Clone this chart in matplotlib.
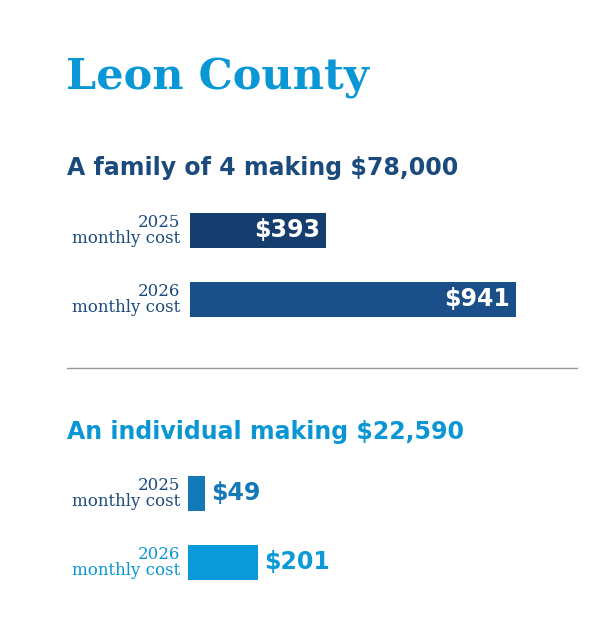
import matplotlib
matplotlib.use("Agg")
import matplotlib.pyplot as plt

title = "Leon County"
groups = ["A family of 4 making $78,000", "An individual making $22,590"]
years = ["2025", "2026"]
family_costs = [393, 941]
individual_costs = [49, 201]

W, H = 600, 641
fig = plt.figure(figsize=(W/100, H/100), dpi=100)
fig.patch.set_facecolor("white")

def fx(x): return x / W
def fy(y): return 1 - y / H

fig.text(fx(66), fy(78), title, fontsize=31, fontweight="bold", family="DejaVu Serif",
         color="#0a97d6", va="center", ha="left")

cfg = [
    dict(sub=groups[0], vals=family_costs, suby=168, subc="#1b4a7d", left=190,
         tops=[213, 282], colors=["#153d6e", "#1a4f8a"], labc=["#1b4a7d", "#1b4a7d"]),
    dict(sub=groups[1], vals=individual_costs, suby=432, subc="#0a96d4", left=188,
         tops=[476, 545], colors=["#1479b8", "#0a9ad9"], labc=["#1b4a7d", "#0a96d4"]),
]
pxper = 326 / 941
for c in cfg:
    fig.text(fx(67), fy(c["suby"]), c["sub"], fontsize=17, fontweight="bold",
             color=c["subc"], va="center", ha="left")
    top, bot = c["tops"][0], c["tops"][1] + 35
    axw = 400
    ax = fig.add_axes([fx(c["left"]), fy(bot), axw / W, (bot - top) / H])
    ax.set_xlim(0, axw / pxper)
    ax.set_ylim(bot, top)
    ax.axis("off")
    for i, v in enumerate(c["vals"]):
        yc = c["tops"][i] + 17.5
        ax.barh(yc, v, height=35, color=c["colors"][i])
        lab = f"${v:,}"
        if v * pxper > 80:
            ax.text(v - 6 / pxper, yc, lab, color="white", fontsize=17, fontweight="bold",
                    ha="right", va="center")
        else:
            ax.text(v + 6 / pxper, yc, lab, color=c["colors"][i], fontsize=17, fontweight="bold",
                    ha="left", va="center")
        fig.text(fx(180), fy(yc - 8), years[i], fontsize=12, family="DejaVu Serif",
                 color=c["labc"][i], ha="right", va="center")
        fig.text(fx(180), fy(yc + 8), "monthly cost", fontsize=12, family="DejaVu Serif",
                 color=c["labc"][i], ha="right", va="center")

fig.add_artist(plt.Line2D([fx(67), fx(577)], [fy(368), fy(368)], color="#999999", lw=1))
fig.savefig("out.png", dpi=100)
